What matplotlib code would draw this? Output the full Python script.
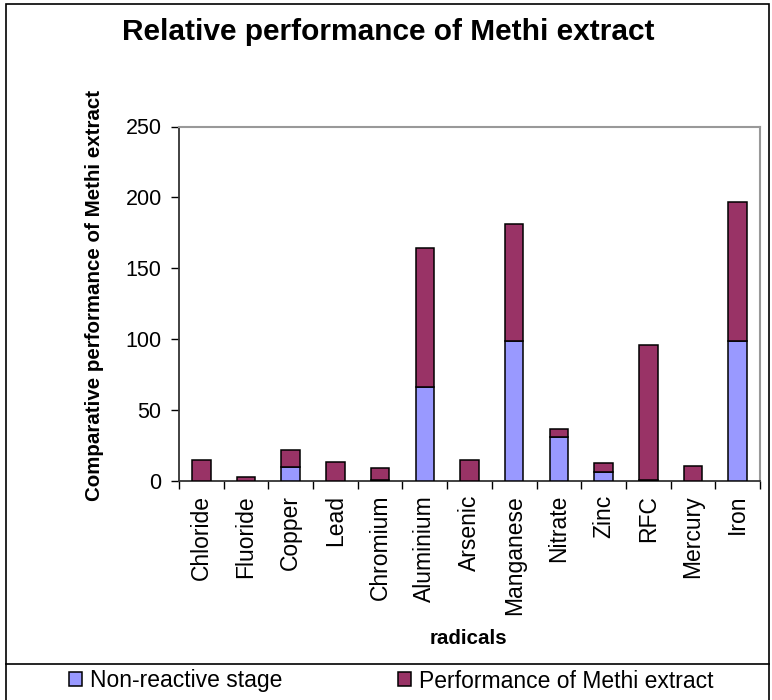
import matplotlib
matplotlib.use("Agg")
import matplotlib.pyplot as plt
from matplotlib.patches import Rectangle
from matplotlib.lines import Line2D
import numpy as np

plt.rcParams['font.family'] = ['Liberation Sans', 'DejaVu Sans']

categories = ["Chloride", "Fluoride", "Copper", "Lead", "Chromium", "Aluminium",
              "Arsenic", "Manganese", "Nitrate", "Zinc", "RFC", "Mercury", "Iron"]
non_reactive = [0, 0, 10, 0, 1, 66, 0, 99, 31, 6.5, 1, 0, 99]
methi_perf = [14.5, 2.5, 12, 13.5, 8, 98, 14.5, 82, 5.5, 6.5, 95, 10.3, 98]
yticks = [0, 50, 100, 150, 200, 250]

W, H = 772, 700
fig = plt.figure(figsize=(W / 100, H / 100), dpi=100)

ax = fig.add_axes([179 / W, (H - 481) / H, (760 - 179) / W, (481 - 126.5) / H])

x = np.arange(len(categories))
bw = 0.415
ax.bar(x, non_reactive, width=bw, color="#9999FF", edgecolor="black", linewidth=1.1,
       label="Non-reactive stage", zorder=3)
ax.bar(x, methi_perf, width=bw, bottom=non_reactive, color="#993366", edgecolor="black",
       linewidth=1.1, label="Performance of Methi extract", zorder=3)

ax.set_xlim(-0.5, len(categories) - 0.5)
ax.set_ylim(0, 250)
ax.set_yticks(yticks)
ax.set_yticklabels([str(v) for v in yticks])
ax.tick_params(axis='y', direction='out', length=5.5, width=1.0, pad=7,
               colors='black', labelsize=15.5)

ax.set_xticks(np.arange(-0.5, len(categories), 1.0))
ax.set_xticklabels([])
ax.set_xticks(x, minor=True)
ax.set_xticklabels(categories, minor=True, rotation=90)
ax.tick_params(axis='x', which='major', direction='out', length=5.5, width=1.0)
ax.tick_params(axis='x', which='minor', length=0, pad=10, labelsize=16.5)

for s in ['left', 'bottom']:
    ax.spines[s].set_color('#333333')
    ax.spines[s].set_linewidth(1.3)
for s in ['top', 'right']:
    ax.spines[s].set_color('#999999')
    ax.spines[s].set_linewidth(1.5)

fig.text(388 / W, 1 - 32 / H, "Relative performance of Methi extract",
         ha='center', va='center', fontsize=21.5, fontweight='bold')
fig.text(95 / W, 1 - 295 / H, "Comparative performance of Methi extract",
         ha='center', va='center', rotation=90, fontsize=14.8, fontweight='bold')
fig.text(468 / W, 1 - 639 / H, "radicals", ha='center', va='center',
         fontsize=14.8, fontweight='bold')

# outer frame and legend separator
fig.patches.append(Rectangle((5.5 / W, -0.01), (769 - 5.5) / W, 696 / H + 0.01,
                             transform=fig.transFigure, fill=False,
                             edgecolor='black', linewidth=1.2))
fig.lines.append(Line2D([5.5 / W, 769 / W], [1 - 664 / H, 1 - 664 / H],
                        transform=fig.transFigure, color='black', linewidth=1.2))

handles, labels = ax.get_legend_handles_labels()
fig.legend(handles, labels, loc='center left', bbox_to_anchor=(69 / W, 1 - 681 / H),
           ncol=2, frameon=False, fontsize=16.5, handlelength=0.57, handleheight=0.57,
           handletextpad=0.34, columnspacing=5.05, borderaxespad=0, borderpad=0)

fig.savefig("out.png", dpi=100)
